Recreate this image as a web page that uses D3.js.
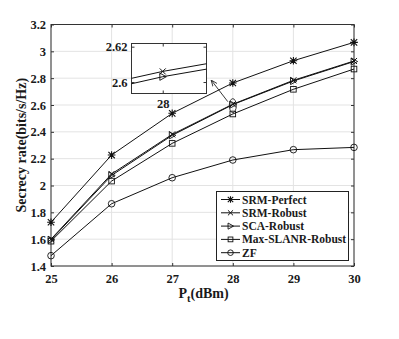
<!DOCTYPE html>
<html>
<head>
<meta charset="utf-8">
<script src="https://cdn.jsdelivr.net/npm/d3@7"></script>
<style>
  body { margin: 0; background: #fff; }
  svg { display: block; }
  text { font-family: "Liberation Serif", "DejaVu Serif", serif; font-weight: bold; fill: #1a1a1a; }
</style>
</head>
<body>
<div id="chart"></div>
<script>
// Data
const power = [25, 26, 27, 28, 29, 30];
const srmPerfect = [1.726, 2.227, 2.538, 2.764, 2.93, 3.067];
const srmRobust = [1.60, 2.086, 2.381, 2.606, 2.784, 2.928];
const scaRobust = [1.595, 2.075, 2.374, 2.603, 2.779, 2.924];
const maxSlanr = [1.585, 2.033, 2.314, 2.533, 2.717, 2.868];
const zf = [1.477, 1.864, 2.058, 2.19, 2.267, 2.284];
const yTicks = [1.4, 1.6, 1.8, 2, 2.2, 2.4, 2.6, 2.8, 3, 3.2];
const insetYTicks = [2.6, 2.62];

const series = [
    { name: 'SRM-Perfect', values: srmPerfect, marker: 'star' },
    { name: 'SRM-Robust', values: srmRobust, marker: 'x' },
    { name: 'SCA-Robust', values: scaRobust, marker: 'tri' },
    { name: 'Max-SLANR-Robust', values: maxSlanr, marker: 'square' },
    { name: 'ZF', values: zf, marker: 'circle' }
];

const width = 399, height = 339;
const m = { left: 51, right: 45, top: 24.5, bottom: 73 };

const svg = d3.select('#chart').append('svg')
    .attr('width', width)
    .attr('height', height);

const x = d3.scaleLinear().domain([25, 30]).range([m.left, width - m.right]);
const y = d3.scaleLinear().domain([1.4, 3.2]).range([height - m.bottom, m.top]);

// Grid
const grid = svg.append('g');
grid.selectAll('.gx').data(power).join('line')
    .attr('x1', d => x(d)).attr('x2', d => x(d))
    .attr('y1', y(1.4)).attr('y2', y(3.2))
    .attr('stroke', '#e3e3e3').attr('stroke-width', 1);
grid.selectAll('.gy').data(yTicks).join('line')
    .attr('y1', d => y(d)).attr('y2', d => y(d))
    .attr('x1', x(25)).attr('x2', x(30))
    .attr('stroke', '#e3e3e3').attr('stroke-width', 1);

// Axes (MATLAB style: ticks inside, box)
const axisStyle = g => {
    g.selectAll('.domain').remove();
    g.selectAll('line').attr('stroke', '#333');
    g.selectAll('text').style('font-size', '12.5px').attr('fill', '#1a1a1a');
};
svg.append('g')
    .attr('transform', `translate(0,${y(1.4)})`)
    .call(d3.axisBottom(x).tickValues(power).tickSize(-3).tickPadding(8).tickFormat(d3.format('d')))
    .call(axisStyle);
svg.append('g')
    .attr('transform', `translate(0,${y(3.2)})`)
    .call(d3.axisTop(x).tickValues(power).tickSize(-3).tickFormat(''))
    .call(axisStyle);
svg.append('g')
    .attr('transform', `translate(${x(25)},0)`)
    .call(d3.axisLeft(y).tickValues(yTicks).tickSize(-3).tickPadding(5).tickFormat(d => d3.format('')(+d.toFixed(1))))
    .call(axisStyle);
svg.append('g')
    .attr('transform', `translate(${x(30)},0)`)
    .call(d3.axisRight(y).tickValues(yTicks).tickSize(-3).tickFormat(''))
    .call(axisStyle);
svg.append('rect')
    .attr('x', x(25)).attr('y', y(3.2))
    .attr('width', x(30) - x(25)).attr('height', y(1.4) - y(3.2))
    .attr('fill', 'none').attr('stroke', '#333').attr('stroke-width', 1);

// Markers
function drawMarker(g, type, s) {
    if (type === 'circle') {
        g.append('circle').attr('r', 3.3 * s).attr('fill', 'none').attr('stroke', '#111').attr('stroke-width', 0.9);
    } else if (type === 'square') {
        g.append('rect').attr('x', -2.8 * s).attr('y', -2.8 * s).attr('width', 5.6 * s).attr('height', 5.6 * s)
            .attr('fill', 'none').attr('stroke', '#111').attr('stroke-width', 0.9);
    } else if (type === 'tri') {
        const r = 3.6 * s;
        g.append('path').attr('d', `M${-r * 0.8},${-r}L${r},0L${-r * 0.8},${r}Z`)
            .attr('fill', 'none').attr('stroke', '#111').attr('stroke-width', 0.9);
    } else if (type === 'x') {
        const r = 3 * s;
        g.append('path').attr('d', `M${-r},${-r}L${r},${r}M${-r},${r}L${r},${-r}`)
            .attr('stroke', '#111').attr('stroke-width', 1);
    } else if (type === 'star') {
        const r = 3.2 * s;
        g.append('path').attr('d', `M${-r},${-r}L${r},${r}M${-r},${r}L${r},${-r}M0,${-r * 1.2}L0,${r * 1.2}M${-r * 1.2},0L${r * 1.2},0`)
            .attr('stroke', '#111').attr('stroke-width', 1.1);
    }
}

const line = d3.line().x(d => x(d[0])).y(d => y(d[1]));
series.forEach(s => {
    const pts = power.map((p, i) => [p, s.values[i]]);
    svg.append('path').datum(pts)
        .attr('d', line)
        .attr('fill', 'none').attr('stroke', '#111').attr('stroke-width', 1);
    pts.forEach(p => {
        const g = svg.append('g').attr('transform', `translate(${x(p[0])},${y(p[1])})`);
        drawMarker(g, s.marker, 1);
    });
});

// Ellipse + arrow to inset
svg.append('ellipse')
    .attr('cx', x(28)).attr('cy', y(2.595))
    .attr('rx', 3.5).attr('ry', 7)
    .attr('fill', 'none').attr('stroke', '#222').attr('stroke-width', 0.9);
svg.append('defs').append('marker')
    .attr('id', 'arr').attr('viewBox', '0 0 10 10').attr('refX', 9).attr('refY', 5)
    .attr('markerWidth', 7).attr('markerHeight', 7).attr('orient', 'auto')
    .append('path').attr('d', 'M0,1L10,5L0,9').attr('fill', 'none').attr('stroke', '#222').attr('stroke-width', 1.3);
svg.append('line')
    .attr('x1', x(28) - 5).attr('y1', y(2.595) - 4)
    .attr('x2', 211.5).attr('y2', 80.5)
    .attr('stroke', '#222').attr('stroke-width', 0.9)
    .attr('marker-end', 'url(#arr)');

// Inset
const ix = d3.scaleLinear().domain([27.9826, 28.0244]).range([131.5, 206.5]);
const iy = d3.scaleLinear().domain([2.5935, 2.6218]).range([93.5, 43.5]);
const inset = svg.append('g');
inset.append('rect')
    .attr('x', 131.5).attr('y', 43.5).attr('width', 75).attr('height', 50)
    .attr('fill', '#fff').attr('stroke', '#333').attr('stroke-width', 1);
svg.select('defs').append('clipPath').attr('id', 'ic')
    .append('rect').attr('x', 131.5).attr('y', 43.5).attr('width', 75).attr('height', 50);
const iline = d3.line().x(d => ix(d[0])).y(d => iy(d[1]));
const ilines = inset.append('g').attr('clip-path', 'url(#ic)');
[series[1], series[2]].forEach(s => {
    const pts = power.map((p, i) => [p, s.values[i]]);
    ilines.append('path').datum(pts).attr('d', iline)
        .attr('fill', 'none').attr('stroke', '#111').attr('stroke-width', 1);
    const g = ilines.append('g').attr('transform', `translate(${ix(28)},${iy(s.values[3])})`);
    drawMarker(g, s.marker, 1);
});
inset.append('g')
    .attr('transform', 'translate(0,93.5)')
    .call(d3.axisBottom(ix).tickValues([28]).tickSize(-3).tickPadding(6).tickFormat(d3.format('d')))
    .call(axisStyle);
inset.append('g')
    .attr('transform', 'translate(0,43.5)')
    .call(d3.axisTop(ix).tickValues([28]).tickSize(-3).tickFormat(''))
    .call(axisStyle);
inset.append('g')
    .attr('transform', 'translate(131.5,0)')
    .call(d3.axisLeft(iy).tickValues(insetYTicks).tickSize(-3).tickPadding(4).tickFormat(d => d === 2.6 ? '2.6' : '2.62'))
    .call(axisStyle);
inset.append('g')
    .attr('transform', 'translate(206.5,0)')
    .call(d3.axisRight(iy).tickValues(insetYTicks).tickSize(-3).tickFormat(''))
    .call(axisStyle);

// Axis labels
svg.append('text')
    .attr('x', x(27.5) + 1).attr('y', 298)
    .attr('text-anchor', 'middle')
    .style('font-size', '14px')
    .html('P<tspan dy="4" font-size="10.5px">t</tspan><tspan dy="-4">(dBm)</tspan>');
svg.append('text')
    .attr('transform', `translate(26,${(y(1.4) + y(3.2)) / 2}) rotate(-90)`)
    .attr('text-anchor', 'middle')
    .style('font-size', '14px')
    .text('Secrecy rate(bits/s/Hz)');

// Legend
const lg = svg.append('g');
lg.append('rect')
    .attr('x', 216.5).attr('y', 191.5).attr('width', 132).attr('height', 69)
    .attr('fill', '#fff').attr('stroke', '#222').attr('stroke-width', 1);
series.forEach((s, i) => {
    const cy = 199.5 + i * 13.3;
    lg.append('line').attr('x1', 221).attr('x2', 240).attr('y1', cy).attr('y2', cy)
        .attr('stroke', '#111').attr('stroke-width', 1);
    drawMarker(lg.append('g').attr('transform', `translate(230.5,${cy})`), s.marker, 0.85);
    lg.append('text').attr('x', 242).attr('y', cy + 4)
        .style('font-size', '11.5px')
        .text(s.name);
});
</script>
</body>
</html>
